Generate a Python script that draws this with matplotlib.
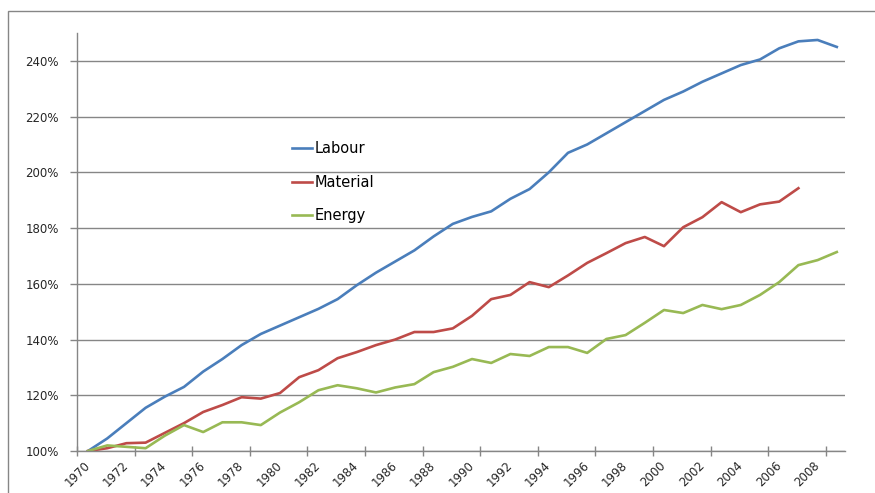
import matplotlib
matplotlib.use("Agg")
import matplotlib.pyplot as plt
from matplotlib.patches import Rectangle
import numpy as np

years = list(range(1970, 2010))

labour = [100, 104.5, 110, 115.5, 119.5, 123, 128.5, 133, 138, 142,
          145, 148, 151, 154.5, 159.5, 164, 168, 172, 177, 181.5,
          184, 186, 190.5, 194, 200, 207, 210, 214, 218, 222,
          226, 229, 232.5, 235.5, 238.5, 240.5, 244.5, 247, 247.5, 245]

material = [100, 101, 102.8, 103, 106.5, 110, 114, 116.5, 119.3, 118.8,
            120.8, 126.5, 129, 133.3, 135.5, 138, 140, 142.7, 142.7, 144,
            148.5, 154.5, 156, 160.6, 158.8, 163, 167.5, 171, 174.6, 176.8,
            173.5, 180.3, 183.9, 189.3, 185.7, 188.5, 189.5, 194.3]

energy = [100, 102, 101.5, 101, 105.5, 109.3, 106.8, 110.3, 110.3, 109.3,
          113.8, 117.5, 121.8, 123.6, 122.5, 121, 122.8, 124, 128.3, 130.2,
          133, 131.6, 134.8, 134.1, 137.3, 137.3, 135.2, 140.2, 141.6, 146,
          150.6, 149.5, 152.4, 150.9, 152.4, 156, 160.6, 166.7, 168.5, 171.4]

label_years = list(range(1970, 2009, 2))
y_ticks = [100, 120, 140, 160, 180, 200, 220, 240]

grey = "#868686"

fig = plt.figure(figsize=(8.75, 4.93), dpi=100)
ax = fig.add_axes([77 / 875, 1 - 451 / 493, (845 - 77) / 875, (451 - 33) / 493])

# outer chart-area frame (cut off at right/bottom like the screenshot)
fig.patches.append(Rectangle((8 / 875, -0.2), 2, 1.2 - 11 / 493,
                             transform=fig.transFigure, fill=False,
                             edgecolor=grey, lw=1))

ax.plot(years, labour, color="#4A7EBB", lw=1.9, label="Labour")
ax.plot(years[:len(material)], material, color="#BE4B48", lw=1.9, label="Material")
ax.plot(years, energy, color="#98B954", lw=1.9, label="Energy")

x0 = 1970 - 11 / 19.2
ax.set_xlim(x0, x0 + 40)
ax.set_ylim(100, 250)

ax.set_yticks(y_ticks)
ax.set_yticklabels([f"{v}%" for v in y_ticks])
ax.yaxis.grid(True, color=grey, lw=1)
ax.set_axisbelow(True)
ax.tick_params(axis="y", length=5, width=1, color=grey, labelsize=8.5,
               labelcolor="#262626", pad=8)

# tick marks every 3 years, labels every 2 years
ax.set_xticks([x0 + 3 * k for k in range(14)])
ax.set_xticklabels([])
ax.tick_params(axis="x", which="major", direction="inout", length=7,
               width=1, color=grey)
ax.set_xticks(label_years, minor=True)
ax.set_xticklabels([str(y) for y in label_years], minor=True, rotation=45,
                   ha="right", va="center", rotation_mode="anchor")
ax.tick_params(axis="x", which="minor", length=0, labelsize=8.5,
               labelcolor="#262626", pad=9)

for s in ["top", "right"]:
    ax.spines[s].set_visible(False)
for s in ["left", "bottom"]:
    ax.spines[s].set_color(grey)
    ax.spines[s].set_linewidth(1)

fig.legend(loc="upper left", bbox_to_anchor=(292 / 875, 1 - 141 / 493),
           frameon=False, fontsize=10.5, handlelength=1.4, handletextpad=0.15,
           labelspacing=1.28, borderpad=0, borderaxespad=0)

fig.savefig("out.png", dpi=100)
